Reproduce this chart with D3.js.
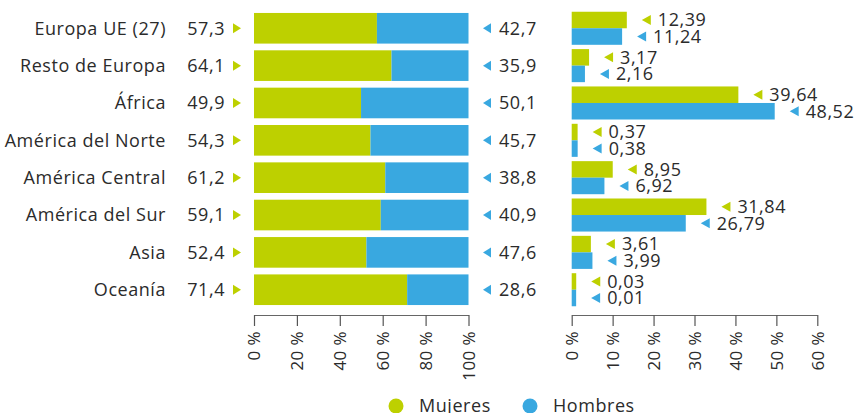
<!DOCTYPE html>
<html><head><meta charset="utf-8">
<script src="https://cdn.jsdelivr.net/npm/d3@7/dist/d3.min.js"></script>
<style>
body{margin:0;background:#fff;}
text{font-family:"Open Sans",sans-serif;fill:#2b2b2b;}
.lbl{font-size:18px;letter-spacing:0.55px;}
</style></head>
<body><svg id="c" width="858" height="413"></svg>
<script>
const categories = ["Europa UE (27)","Resto de Europa","África","América del Norte","América Central","América del Sur","Asia","Oceanía"];
const mujeresPct = [57.3,64.1,49.9,54.3,61.2,59.1,52.4,71.4];
const hombresPct = [42.7,35.9,50.1,45.7,38.8,40.9,47.6,28.6];
const mujeresDist = [12.39,3.17,39.64,0.37,8.95,31.84,3.61,0.03];
const hombresDist = [11.24,2.16,48.52,0.38,6.92,26.79,3.99,0.01];
const leftTicks = [0,20,40,60,80,100];
const rightTicks = [0,10,20,30,40,50,60];
const seriesNames = ["Mujeres","Hombres"];

const GREEN = "#BDD000", BLUE = "#39A8E0";
const fmt = v => String(v).replace(".", ",");
const fmt2 = v => v.toFixed(2).replace(".", ",");
const svg = d3.select("#c");

const y = d3.scaleBand().domain(categories).range([9.6, 308.4]).paddingInner(0.18).paddingOuter(0.09);
const yR = d3.scaleBand().domain(categories).range([9.6, 308.4]).paddingInner(0.115).paddingOuter(0.0575);
const sub = d3.scaleBand().domain(seriesNames).range([0, yR.bandwidth()]);

// LEFT: 100% stacked
const xL = d3.scaleLinear().domain([0,100]).range([254, 468.5]);
const gL = svg.append("g");
categories.forEach((c,i)=>{
  const top = y(c), h = y.bandwidth(), cy = top + h/2;
  gL.append("rect").attr("x", xL(0)).attr("y", top).attr("width", xL(mujeresPct[i])-xL(0)).attr("height", h).attr("fill", GREEN);
  gL.append("rect").attr("x", xL(mujeresPct[i])).attr("y", top).attr("width", xL(100)-xL(mujeresPct[i])).attr("height", h).attr("fill", BLUE);
  svg.append("text").attr("class","lbl").attr("x",166).attr("y",cy).attr("dy","0.35em").attr("text-anchor","end").text(c);
  svg.append("text").attr("class","lbl").attr("x",225).attr("y",cy).attr("dy","0.35em").attr("text-anchor","end").text(fmt(mujeresPct[i]));
  svg.append("path").attr("d",`M233,${cy-5}L241,${cy}L233,${cy+5}Z`).attr("fill",GREEN);
  svg.append("path").attr("d",`M491,${cy-5}L483,${cy}L491,${cy+5}Z`).attr("fill",BLUE);
  svg.append("text").attr("class","lbl").attr("x",499).attr("y",cy).attr("dy","0.35em").text(fmt(hombresPct[i]));
});

// RIGHT: grouped distribution
const xR = d3.scaleLinear().domain([0,60]).range([571.7, 817.3]);
const stub = 4.4;
categories.forEach((c,i)=>{
  [[mujeresDist[i], GREEN, "Mujeres"],[hombresDist[i], BLUE, "Hombres"]].forEach(([v,col,s])=>{
    const top = yR(c) + sub(s), h = sub.bandwidth(), cy = top + h/2;
    const end = xR(v) + stub;
    svg.append("rect").attr("x", xR(0)).attr("y", top).attr("width", end - xR(0)).attr("height", h).attr("fill", col);
    svg.append("path").attr("d",`M${end+24},${cy-5}L${end+15},${cy}L${end+24},${cy+5}Z`).attr("fill",col);
    svg.append("text").attr("class","lbl").attr("x", end+31).attr("y", cy).attr("dy","0.35em").text(fmt2(v));
  });
});

function drawAxis(scale, ticks){
  const ax = d3.axisBottom(scale).tickValues(ticks).tickSize(11).tickSizeOuter(0).tickFormat(d=>d+" %");
  const g = svg.append("g").attr("transform","translate(0,315)").call(ax);
  g.select(".domain").attr("stroke","#666").attr("stroke-width",1.2);
  g.selectAll(".tick line").attr("stroke","#555").attr("stroke-width",1.2);
  g.selectAll(".tick text").attr("font-size",17).attr("letter-spacing","0.4px").attr("fill","#2b2b2b")
    .attr("transform","rotate(-90)").attr("text-anchor","end")
    .attr("x",-16).attr("y",0).attr("dy","0.35em");
}
drawAxis(xL, leftTicks);
drawAxis(xR, rightTicks);

// legend
const leg = [[seriesNames[0], GREEN, 396],[seriesNames[1], BLUE, 530]];
leg.forEach(([n,col,cx])=>{
  svg.append("circle").attr("cx",cx).attr("cy",406).attr("r",7.5).attr("fill",col);
  svg.append("text").attr("class","lbl").attr("x",cx+23).attr("y",406).attr("dy","0.35em").text(n);
});
</script></body></html>
